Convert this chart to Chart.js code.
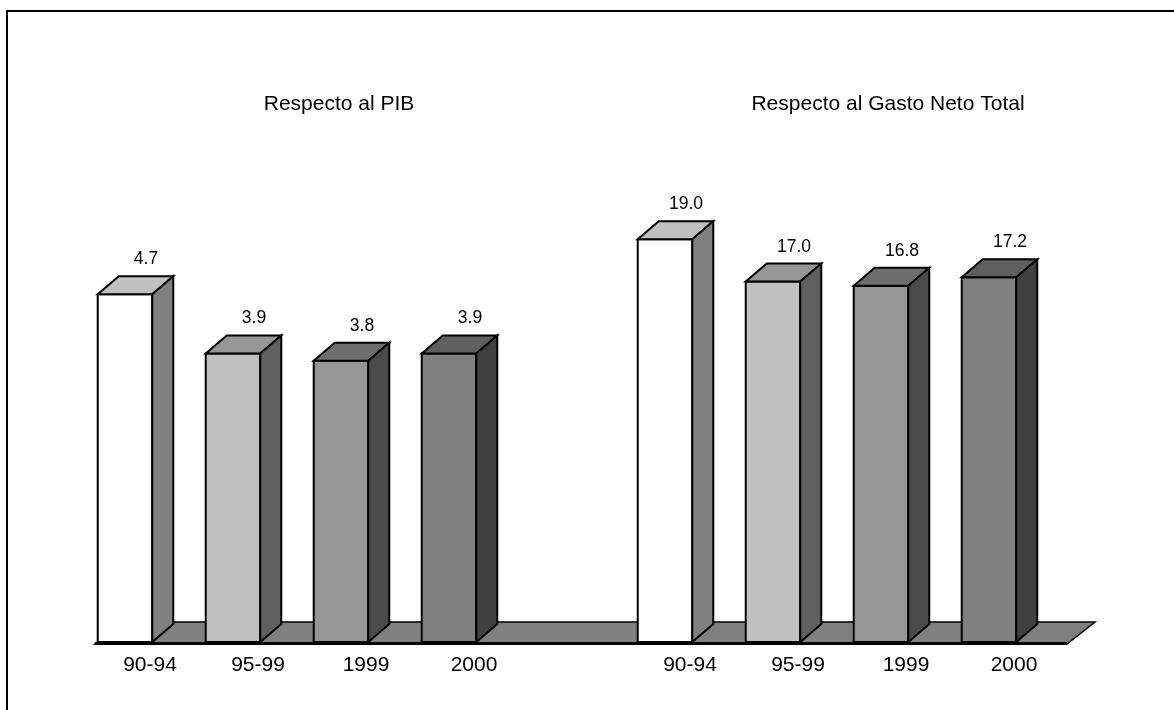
<!DOCTYPE html>
<html lang='es'>
<head>
  <meta charset='UTF-8'>
  <title>Respecto al PIB / Gasto Neto Total</title>
  <script src="https://cdn.jsdelivr.net/npm/chart.js@4.4.1/dist/chart.umd.min.js"></script>
  <style>
    html, body {
      margin: 0;
      padding: 0;
      background: #fff;
    }

    #wrap {
      width: 1174px;
      height: 710px;
      position: relative;
    }
  </style>
</head>
<body>
<div id="wrap">
  <canvas id="chart"></canvas>
</div>
<script>
  // 9 slots on one floor: 4 bars, a gap, 4 bars
  const categories = ['90-94', '95-99', '1999', '2000', '', '90-94', '95-99', '1999', '2000'];
  const pibValues = [4.7, 3.9, 3.8, 3.9, null, null, null, null, null];
  const gastoValues = [null, null, null, null, null, 19.0, 17.0, 16.8, 17.2];
  const groupTitles = ['Respecto al PIB', 'Respecto al Gasto Neto Total'];

  // shades per period: front, top and side faces
  const frontColors = ['#ffffff', '#c0c0c0', '#969696', '#808080'];
  const topColors = ['#c0c0c0', '#969696', '#6e6e6e', '#5f5f5f'];
  const sideColors = ['#808080', '#606060', '#4b4b4b', '#404040'];

  const FONT = '"Liberation Sans", Arial, sans-serif';
  const DX = 21, DY = 18;          // bar depth
  const FLOOR_DX = 28, FLOOR_DY = 22;

  const shadeIndex = (i) => i % 5;

  const box3d = {
    id: 'box3d',
    beforeDraw(chart) {
      const ctx = chart.ctx;
      // frame lines (left and top)
      ctx.save();
      ctx.strokeStyle = '#000';
      ctx.lineWidth = 2;
      ctx.beginPath();
      ctx.moveTo(7, 710);
      ctx.lineTo(7, 11);
      ctx.lineTo(1174, 11);
      ctx.stroke();
      ctx.restore();
    },
    afterDatasetsDraw(chart) {
      const ctx = chart.ctx;
      const xs = chart.scales.x;
      const base = chart.scales.y.getPixelForValue(0);
      const L = chart.chartArea.left, R = chart.chartArea.right;

      ctx.save();
      ctx.lineJoin = 'miter';
      ctx.strokeStyle = '#000';

      // floor
      ctx.beginPath();
      ctx.moveTo(L, base + 2);
      ctx.lineTo(R, base + 2);
      ctx.lineTo(R + FLOOR_DX, base + 2 - FLOOR_DY);
      ctx.lineTo(L + FLOOR_DX, base + 2 - FLOOR_DY);
      ctx.closePath();
      ctx.fillStyle = '#808080';
      ctx.fill();
      ctx.lineWidth = 1.5;
      ctx.stroke();
      ctx.fillStyle = '#000';
      ctx.fillRect(L, base, R - L, 3);

      // bars
      chart.data.datasets.forEach((ds, di) => {
        const meta = chart.getDatasetMeta(di);
        meta.data.forEach((el, i) => {
          const v = ds.data[i];
          if (v === null || v === undefined) return;
          const k = shadeIndex(i);
          const w = el.width;
          const fl = el.x - 24 - w / 2;
          const top = el.y;
          const bot = el.base;
          ctx.lineWidth = 2;

          ctx.beginPath();
          ctx.rect(fl, top, w, bot - top);
          ctx.fillStyle = frontColors[k];
          ctx.fill();
          ctx.stroke();

          ctx.beginPath();
          ctx.moveTo(fl, top);
          ctx.lineTo(fl + DX, top - DY);
          ctx.lineTo(fl + w + DX, top - DY);
          ctx.lineTo(fl + w, top);
          ctx.closePath();
          ctx.fillStyle = topColors[k];
          ctx.fill();
          ctx.stroke();

          ctx.beginPath();
          ctx.moveTo(fl + w, top);
          ctx.lineTo(fl + w + DX, top - DY);
          ctx.lineTo(fl + w + DX, bot - DY);
          ctx.lineTo(fl + w, bot);
          ctx.closePath();
          ctx.fillStyle = sideColors[k];
          ctx.fill();
          ctx.stroke();

          // value label
          ctx.fillStyle = '#000';
          ctx.font = '17.5px ' + FONT;
          ctx.textAlign = 'center';
          ctx.textBaseline = 'alphabetic';
          ctx.fillText(v.toFixed(1), el.x - 3, top - 30);
        });
      });

      // category labels
      ctx.fillStyle = '#000';
      ctx.font = '21px ' + FONT;
      ctx.textAlign = 'center';
      ctx.textBaseline = 'alphabetic';
      categories.forEach((c, i) => {
        if (c) ctx.fillText(c, xs.getPixelForValue(i) + 1, 671);
      });

      // group titles
      ctx.fillText(groupTitles[0], xs.getPixelForValue(1.5) + 28, 110);
      ctx.fillText(groupTitles[1], xs.getPixelForValue(6.5) + 37, 110);
      ctx.restore();
    }
  };

  const ctx = document.getElementById('chart').getContext('2d');
  new Chart(ctx, {
    type: 'bar',
    data: {
      labels: categories,
      datasets: [{
        label: groupTitles[0],
        data: pibValues,
        yAxisID: 'y',
        backgroundColor: 'rgba(0,0,0,0)',
        grouped: false,
        categoryPercentage: 1,
        barPercentage: 0.505
      }, {
        label: groupTitles[1],
        data: gastoValues,
        yAxisID: 'y1',
        backgroundColor: 'rgba(0,0,0,0)',
        grouped: false,
        categoryPercentage: 1,
        barPercentage: 0.505
      }]
    },
    options: {
      responsive: true,
      maintainAspectRatio: false,
      devicePixelRatio: 1,
      animation: false,
      events: [],
      layout: {
        padding: {left: 95, right: 107, top: 112, bottom: 68}
      },
      plugins: {
        legend: {display: false},
        tooltip: {enabled: false},
        title: {display: false}
      },
      scales: {
        x: {display: false, offset: true},
        y: {display: false, min: 0, max: 7.162},
        y1: {display: false, min: 0, max: 25}
      }
    },
    plugins: [box3d]
  });
</script>
</body>
</html>
